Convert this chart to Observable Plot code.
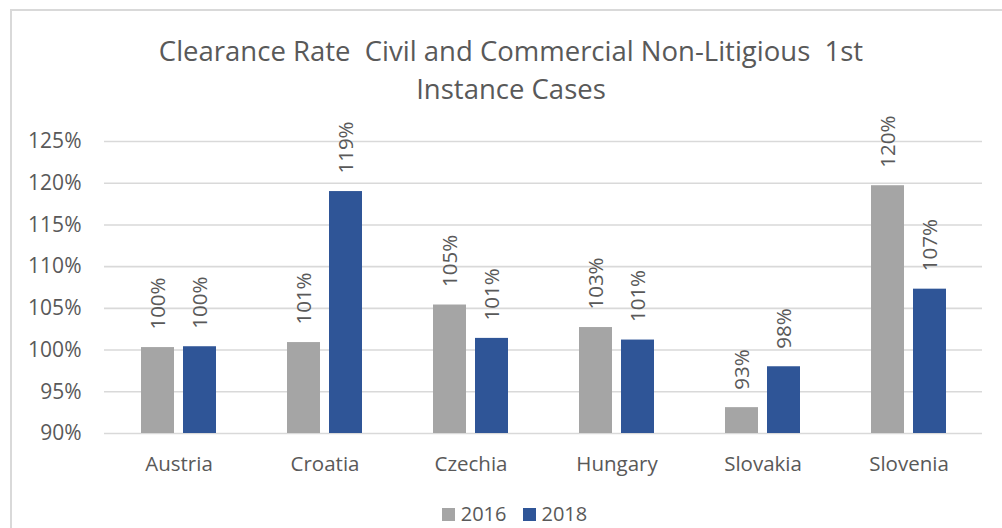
<!DOCTYPE html>
<html>
<head>
<meta charset="utf-8">
<script src="https://cdn.jsdelivr.net/npm/d3@7"></script>
<script src="https://cdn.jsdelivr.net/npm/@observablehq/plot@0.6"></script>
<style>
  html, body { margin: 0; padding: 0; background: #fff; }
  body { width: 1002px; height: 528px; overflow: hidden; position: relative; font-family: "Open Sans", sans-serif; color: #595959; }
  #frame { position: absolute; left: 10px; top: 9px; width: 1100px; height: 600px; border: 2px solid #d9d9d9; box-sizing: border-box; }
  #title { position: absolute; left: 0; top: 32px; width: 1022px; text-align: center; font-size: 27.5px; line-height: 38px; font-weight: 400; white-space: pre; color: #595959; }
  #chart { position: absolute; left: 0; top: 120px; }
  #legend { position: absolute; left: 0; top: 501px; width: 1029px; height: 26px; display: flex; justify-content: center; align-items: center; font-size: 20px; line-height: 26px; color: #595959; }
  .item { display: flex; align-items: center; margin: 0 8px; }
  .sw { width: 13px; height: 13px; margin-right: 6px; }
</style>
</head>
<body>
<div id="frame"></div>
<div id="title"></div>
<div id="chart"></div>
<div id="legend"></div>
<script>
const titleLines = ["Clearance Rate  Civil and Commercial Non-Litigious  1st", "Instance Cases"];
const countries = ["Austria", "Croatia", "Czechia", "Hungary", "Slovakia", "Slovenia"];
const years = ["2016", "2018"];
const values2016 = [100.3, 100.9, 105.4, 102.7, 93.1, 119.7];
const values2018 = [100.4, 119.0, 101.4, 101.2, 98.0, 107.3];
const yTicks = [90, 95, 100, 105, 110, 115, 120, 125];
const colors = ["#A5A5A5", "#2F5597"];

document.getElementById("title").textContent = titleLines.join("\n");

const rows2016 = countries.map((c, i) => ({country: c, year: years[0], value: values2016[i]}));
const rows2018 = countries.map((c, i) => ({country: c, year: years[1], value: values2018[i]}));

const fontFamily = "Open Sans, sans-serif";
const barInset = 42;

const chart = Plot.plot({
  width: 1002,
  height: 368,
  marginTop: 21,
  marginBottom: 55,
  marginLeft: 104,
  marginRight: 20,
  style: {fontFamily, fontSize: "20px", color: "#595959", background: "transparent", overflow: "visible"},
  x: {domain: countries, paddingInner: 0.487, paddingOuter: 0.2435, label: null},
  y: {domain: [90, 125], ticks: yTicks, label: null},
  marks: [
    Plot.gridY(yTicks, {stroke: "#d9d9d9", strokeOpacity: 1, strokeWidth: 1.6}),
    Plot.axisY({ticks: yTicks, tickSize: 0, tickPadding: 23, tickFormat: d => d + "%", fill: "#595959", fontSize: 21}),
    Plot.axisX({tickSize: 0, tickPadding: 23, fill: "#595959", fontSize: 20.5}),
    Plot.barY(rows2016, {x: "country", y1: 90, y2: "value", fill: colors[0], insetRight: barInset}),
    Plot.barY(rows2018, {x: "country", y1: 90, y2: "value", fill: colors[1], insetLeft: barInset}),
    Plot.text(rows2016, {x: "country", y: "value", text: d => Math.round(d.value) + "%", rotate: -90, textAnchor: "start", dx: -21, dy: -18, fill: "#595959", fontSize: 20.5}),
    Plot.text(rows2018, {x: "country", y: "value", text: d => Math.round(d.value) + "%", rotate: -90, textAnchor: "start", dx: 21, dy: -18, fill: "#595959", fontSize: 20.5})
  ]
});
document.getElementById("chart").appendChild(chart);

const legend = document.getElementById("legend");
years.forEach((y, i) => {
  const item = document.createElement("div");
  item.className = "item";
  const sw = document.createElement("span");
  sw.className = "sw";
  sw.style.background = colors[i];
  const lab = document.createElement("span");
  lab.textContent = y;
  item.appendChild(sw);
  item.appendChild(lab);
  legend.appendChild(item);
});
</script>
</body>
</html>
